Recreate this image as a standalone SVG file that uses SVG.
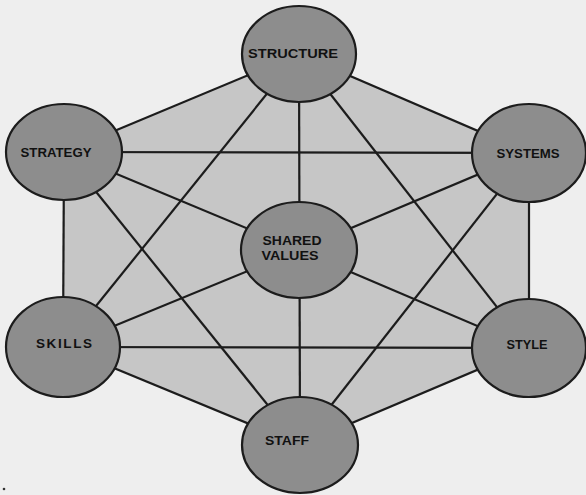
<svg xmlns="http://www.w3.org/2000/svg" width="586" height="495" viewBox="0 0 586 495">
<style>
.node ellipse{fill:#8d8d8d;stroke:#1c1c1c;stroke-width:2.2}
.node text{font-family:"Liberation Sans",Arial,sans-serif;font-weight:bold;font-size:13.5px;fill:#111;text-anchor:middle}
#connectors line{stroke:#1c1c1c;stroke-width:2.2}
</style>
<rect width="586" height="495" fill="#eeeeee"/>
<polygon points="299,54 529,153 529,348 300,445 63,347 64,152" fill="#c6c6c6"/>
<g id="connectors">
<line x1="299" y1="54" x2="64" y2="152"/>
<line x1="299" y1="54" x2="529" y2="153"/>
<line x1="64" y1="152" x2="63" y2="347"/>
<line x1="529" y1="153" x2="529" y2="348"/>
<line x1="63" y1="347" x2="300" y2="445"/>
<line x1="529" y1="348" x2="300" y2="445"/>
<line x1="64" y1="152" x2="529" y2="153"/>
<line x1="63" y1="347" x2="529" y2="348"/>
<line x1="299" y1="54" x2="63" y2="347"/>
<line x1="299" y1="54" x2="529" y2="348"/>
<line x1="64" y1="152" x2="300" y2="445"/>
<line x1="529" y1="153" x2="300" y2="445"/>
<line x1="299" y1="54" x2="300" y2="445"/>
<line x1="64" y1="152" x2="299" y2="250"/>
<line x1="529" y1="153" x2="299" y2="250"/>
<line x1="63" y1="347" x2="299" y2="250"/>
<line x1="529" y1="348" x2="299" y2="250"/>
</g>
<g id="structure" class="node"><ellipse cx="299" cy="54" rx="57" ry="48"/><text x="293" y="58" textLength="90" lengthAdjust="spacingAndGlyphs">STRUCTURE</text></g>
<g id="strategy" class="node"><ellipse cx="64" cy="152" rx="58" ry="48"/><text x="56" y="157" textLength="71" lengthAdjust="spacingAndGlyphs">STRATEGY</text></g>
<g id="systems" class="node"><ellipse cx="529" cy="153" rx="57" ry="49"/><text x="528" y="158" textLength="63" lengthAdjust="spacingAndGlyphs">SYSTEMS</text></g>
<g id="shared-values" class="node"><ellipse cx="299" cy="250" rx="58" ry="48"/><text x="292" y="245" textLength="59" lengthAdjust="spacingAndGlyphs">SHARED</text><text x="290" y="260" textLength="57" lengthAdjust="spacingAndGlyphs">VALUES</text></g>
<g id="skills" class="node"><ellipse cx="63" cy="347" rx="57" ry="50"/><text x="64" y="348" textLength="56" lengthAdjust="spacing">SKILLS</text></g>
<g id="style" class="node"><ellipse cx="529" cy="348" rx="57" ry="49"/><text x="527" y="349" textLength="41" lengthAdjust="spacingAndGlyphs">STYLE</text></g>
<g id="staff" class="node"><ellipse cx="300" cy="445" rx="58" ry="48"/><text x="287" y="445" textLength="44" lengthAdjust="spacingAndGlyphs">STAFF</text></g>
<circle cx="4" cy="489" r="1.3" fill="#333"/>
</svg>
